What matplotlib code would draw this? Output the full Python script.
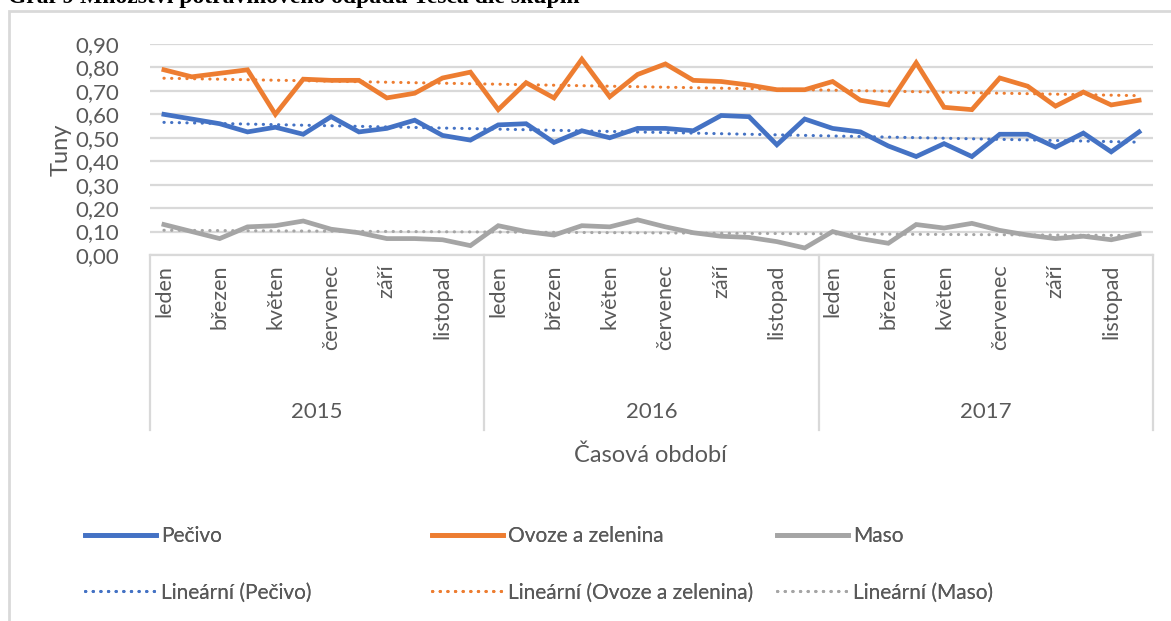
import matplotlib
matplotlib.use('Agg')
import matplotlib.pyplot as plt
import numpy as np
from matplotlib.patches import Rectangle
import matplotlib.transforms as mtransforms

plt.rcParams['font.family'] = ['Lato', 'DejaVu Sans']

years = ['2015', '2016', '2017']
months = ['leden', 'únor', 'březen', 'duben', 'květen', 'červen',
          'červenec', 'srpen', 'září', 'říjen', 'listopad', 'prosinec']

pecivo = [0.60, 0.58, 0.56, 0.525, 0.545, 0.515, 0.59, 0.525, 0.54, 0.575, 0.51, 0.49,
          0.555, 0.56, 0.48, 0.53, 0.50, 0.54, 0.54, 0.53, 0.595, 0.59, 0.47, 0.58,
          0.54, 0.525, 0.465, 0.42, 0.475, 0.42, 0.515, 0.515, 0.46, 0.52, 0.44, 0.525]
ovoce = [0.79, 0.76, 0.775, 0.79, 0.60, 0.75, 0.745, 0.745, 0.67, 0.69, 0.755, 0.78,
         0.62, 0.735, 0.67, 0.835, 0.675, 0.77, 0.815, 0.745, 0.74, 0.725, 0.705, 0.705,
         0.74, 0.66, 0.64, 0.82, 0.63, 0.62, 0.755, 0.72, 0.635, 0.695, 0.64, 0.66]
maso = [0.13, 0.10, 0.07, 0.12, 0.125, 0.145, 0.11, 0.095, 0.07, 0.07, 0.065, 0.04,
        0.125, 0.10, 0.085, 0.125, 0.12, 0.15, 0.12, 0.095, 0.08, 0.075, 0.057, 0.03,
        0.10, 0.07, 0.05, 0.13, 0.115, 0.135, 0.105, 0.085, 0.07, 0.08, 0.065, 0.09]

series_names = ['Pečivo', 'Ovoze a zelenina', 'Maso']
colors = ['#4472C4', '#ED7D31', '#A5A5A5']
yticks = [0.0, 0.1, 0.2, 0.3, 0.4, 0.5, 0.6, 0.7, 0.8, 0.9]

txt = '#595959'
grid = '#D9D9D9'

W, H = 1171, 621
fig = plt.figure(figsize=(W / 100, H / 100), dpi=100)

# nadpis z dokumentu, nahore oriznuty jako v puvodnim obrazku
fig.text(8 / W, 1 - 3 / H, 'Graf 9 Množství potravinového odpadu Tesca dle skupin',
         family='Liberation Serif', fontweight='bold', fontsize=17, va='baseline',
         ha='left', color='black')

# ramecek grafu
fig.patches.append(Rectangle((8.5 / W, -0.1), 1.2, 1 - 11 / H + 0.1, transform=fig.transFigure,
                             fill=False, edgecolor=grid, linewidth=2))

left, right, top, bottom = 150, 1153, 44, 255
ax = fig.add_axes([left / W, 1 - bottom / H, (right - left) / W, (bottom - top) / H])

x = np.arange(len(pecivo))
handles = []
for vals, c, name in zip([pecivo, ovoce, maso], colors, series_names):
    h, = ax.plot(x, vals, color=c, linewidth=3.4, solid_joinstyle='miter', label=name, zorder=3)
    k, q = np.polyfit(x, vals, 1)
    t, = ax.plot(x, k * x + q, color=c, linewidth=2.2, linestyle=(0, (0.1, 2.4)),
                 dash_capstyle='round', label='Lineární (%s)' % name, zorder=2)
    handles.append((h, t))

ax.set_xlim(-0.5, len(pecivo) - 0.5)
ax.set_ylim(0, 0.9)
ax.set_yticks(yticks)
ax.yaxis.set_major_formatter(plt.FuncFormatter(lambda v, p: ('%.2f' % v).replace('.', ',')))
ax.grid(axis='y', color=grid, linewidth=1.6)
ax.set_axisbelow(True)
for s in ['top', 'right', 'left']:
    ax.spines[s].set_visible(False)
ax.spines['bottom'].set_color(grid)
ax.spines['bottom'].set_linewidth(1.6)

tick_pos = [i for i in range(len(pecivo)) if i % 2 == 0]
ax.set_xticks(tick_pos)
ax.set_xticklabels([months[i % 12] for i in tick_pos], rotation=90, va='top', ha='center')
ax.tick_params(axis='x', length=0, pad=7, labelsize=15.5, labelcolor=txt)
ax.tick_params(axis='y', length=0, pad=22, labelsize=16, labelcolor=txt)

# box s kategoriemi pod osou
trans = mtransforms.blended_transform_factory(ax.transData, ax.transAxes)
box_bottom = (bottom - 430) / (bottom - top)
for b in np.arange(-0.5, len(pecivo), 12):
    ax.plot([b, b], [0, box_bottom], transform=trans, color=grid, linewidth=1.6, clip_on=False)
for i, yr in enumerate(years):
    ax.text(i * 12 + 5.5, (bottom - 412) / (bottom - top), yr, transform=trans,
            ha='center', va='center', fontsize=16, color=txt)

ax.set_ylabel('Tuny', fontsize=17, color=txt)
ax.yaxis.set_label_coords((72 - left) / (right - left), 0.5)
fig.text(650 / W, 1 - 455 / H, 'Časová období', ha='center', va='center', fontsize=17, color=txt)

# legenda - tri sloupce zvlast
starts = [85, 432, 777]
for (h, t), xs in zip(handles, starts):
    lg = fig.legend([h, t], [h.get_label(), t.get_label()], loc='upper left',
                    bbox_to_anchor=(xs / W, 1 - 526 / H), frameon=False, fontsize=15,
                    handlelength=3.4, handletextpad=0.25, labelspacing=1.75,
                    borderpad=0, borderaxespad=0, labelcolor=txt)
    fig.add_artist(lg)

fig.savefig('out.png', dpi=100)
